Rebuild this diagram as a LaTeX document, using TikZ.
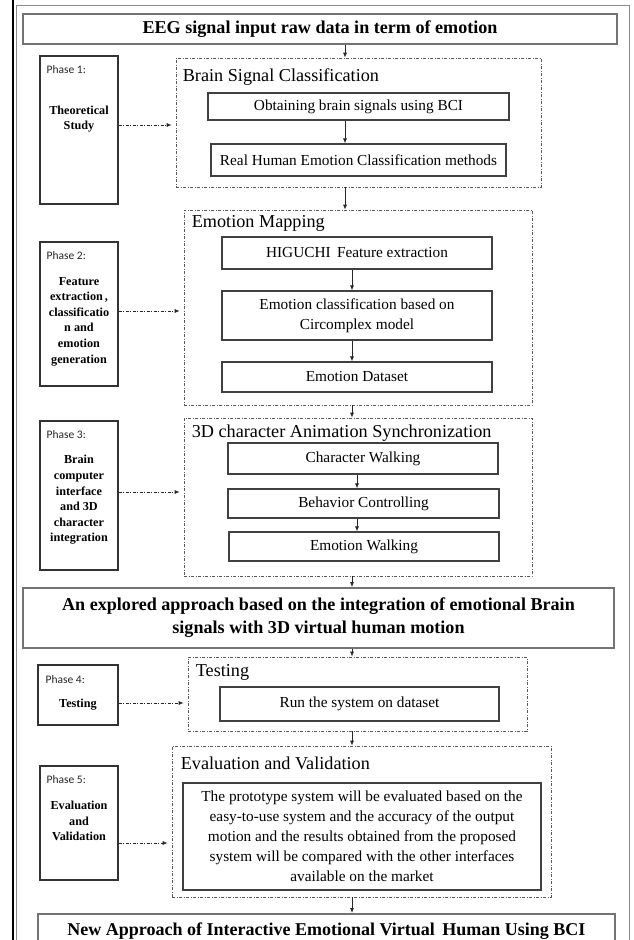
\documentclass[tikz,border=0pt]{standalone}
\usepackage{fontspec}
\setmainfont{Liberation Serif}
\newfontfamily\phasefont{Carlito}
\usetikzlibrary{arrows.meta}
\begin{document}
\begin{tikzpicture}[x=1pt,y=-1pt,
  box/.style={draw=black!75, line width=1.1pt, inner sep=0pt, align=center, font=\fontsize{15.3}{20}\selectfont},
  bigbox/.style={draw=black!55, line width=1.8pt, inner sep=0pt, align=center, font=\bfseries\fontsize{18.1}{23}\selectfont},
  grp/.style={draw=black!65, line width=0.7pt, dash pattern=on 3pt off 1.5pt on 1pt off 1.5pt, inner sep=0pt},
  grptitle/.style={anchor=west, inner sep=0pt, font=\fontsize{18.2}{20}\selectfont},
  phbox/.style={draw=black!80, line width=1.1pt, inner sep=0pt},
  phlabel/.style={anchor=west, inner sep=0pt, font=\phasefont\fontsize{11.5}{13}\selectfont, text=black!85},
  phtext/.style={inner sep=0pt, align=center, font=\bfseries\fontsize{12.2}{15.6}\selectfont},
  arr/.style={-{Latex[length=5pt,width=4pt]}, line width=0.8pt, black!85},
  darr/.style={-{Latex[length=5pt,width=4pt]}, line width=0.7pt, dash pattern=on 3pt off 1.5pt on 1pt off 1.5pt, black!85, shorten >=4pt},
]
\useasboundingbox (0,0) rectangle (633,940);
\fill[white] (0,0) rectangle (633,940);
% outer frame
\draw[line width=2pt] (12.5,0) -- (12.5,940);
\draw[black!45, line width=1pt] (16.5,940) -- (16.5,5) -- (629,5) -- (629,940);

\coordinate (cA) at (345,0);
\coordinate (cB) at (352,0);
\coordinate (cC) at (357,0);

% top box
\node[bigbox, minimum width=594, minimum height=30] (top) at (320,29) {EEG signal input raw data in term of emotion};

% phase 1
\node[grp, minimum width=365, minimum height=129] (g1) at (358.5,122.5) {};
\node[grptitle] (t1) at ([xshift=7pt,yshift=-19pt]g1.north west) {Brain Signal Classification};
\node[box, minimum width=301, minimum height=27] (b11) at (358.5,106.5) {Obtaining brain signals using BCI};
\node[box, minimum width=295, minimum height=32] (b12) at (358.5,160) {Real Human Emotion Classification methods};
\node[phbox, minimum width=78, minimum height=148] (ph1) at (79,130) {};
\node[phlabel] (p1l) at ([xshift=7pt,yshift=-14pt]ph1.north west) {Phase 1:};
\node[phtext] (p1t) at (79,119) {Theoretical\\Study};

% phase 2
\node[grp, minimum width=348, minimum height=195] (g2) at (358,307.5) {};
\node[grptitle] (t2) at ([xshift=8pt,yshift=-14pt]g2.north west) {Emotion Mapping};
\node[box, minimum width=270, minimum height=32] (b21) at (357,253) {HIGUCHI\, Feature extraction};
\node[box, minimum width=270, minimum height=49] (b22) at (357,315.5) {Emotion classification based on\\Circomplex model};
\node[box, minimum width=270, minimum height=30] (b23) at (357,377) {Emotion Dataset};
\node[phbox, minimum width=78, minimum height=144] (ph2) at (79,314) {};
\node[phlabel] (p2l) at ([xshift=7pt,yshift=-14pt]ph2.north west) {Phase 2:};
\node[phtext] (p2t) at (79,321.5) {Feature\\extraction\,,\\classificatio\\n and\\emotion\\generation};

% phase 3
\node[grp, minimum width=348, minimum height=158] (g3) at (358,497) {};
\node[grptitle] (t3) at ([xshift=8pt,yshift=-15pt]g3.north west) {3D character Animation Synchronization};
\node[box, minimum width=270, minimum height=31] (b31) at (363,458.5) {Character Walking};
\node[box, minimum width=271, minimum height=29] (b32) at (363.5,503.5) {Behavior Controlling};
\node[box, minimum width=270, minimum height=29] (b33) at (364,546.5) {Emotion Walking};
\node[phbox, minimum width=78, minimum height=149] (ph3) at (79,495.5) {};
\node[phlabel] (p3l) at ([xshift=7pt,yshift=-14pt]ph3.north west) {Phase 3:};
\node[phtext] (p3t) at (79,500) {Brain\\computer\\interface\\and 3D\\character\\integration};

% big box
\node[bigbox, minimum width=591, minimum height=60] (big) at (318.5,618) {An explored approach based on the integration of emotional Brain\\signals with 3D virtual human motion};

% phase 4
\node[grp, minimum width=339, minimum height=74] (g4) at (357.5,694) {};
\node[grptitle] (t4) at ([xshift=8pt,yshift=-16pt]g4.north west) {Testing};
\node[box, minimum width=279, minimum height=34] (b41) at (359.5,704) {Run the system on dataset};
\node[phbox, minimum width=80, minimum height=60] (ph4) at (78,695) {};
\node[phlabel] (p4l) at ([xshift=8pt,yshift=-15pt]ph4.north west) {Phase 4:};
\node[phtext] (p4t) at (78,705) {Testing};

% phase 5
\node[grp, minimum width=379, minimum height=151] (g5) at (361.5,821.5) {};
\node[grptitle] (t5) at ([xshift=9pt,yshift=-18pt]g5.north west) {Evaluation and Validation};
\node[box, minimum width=358, minimum height=107] (b51) at (362,836.5) {The prototype system will be evaluated based on the\\easy-to-use system and the accuracy of the output\\motion and the results obtained from the proposed\\system will be compared with the other interfaces\\available on the market};
\node[phbox, minimum width=78, minimum height=114] (ph5) at (79,823) {};
\node[phlabel] (p5l) at ([xshift=7pt,yshift=-14pt]ph5.north west) {Phase 5:};
\node[phtext] (p5t) at (79,821) {Evaluation\\and\\Validation};

% final box
\node[bigbox, minimum width=577, minimum height=34, anchor=north, font=\bfseries\fontsize{18}{22}\selectfont] (final) at (326.5,913) {New Approach of Interactive Emotional Virtual\, Human Using BCI};

% vertical arrows
\draw[arr] (top.south -| cA) -- (g1.north -| cA);
\draw[arr] (b11.south -| cA) -- (b12.north -| cA);
\draw[arr] (g1.south -| cA) -- (g2.north -| cA);
\draw[arr] (b21.south -| cB) -- (b22.north -| cB);
\draw[arr] (b22.south -| cB) -- (b23.north -| cB);
\draw[arr] (g2.south -| cB) -- (g3.north -| cB);
\draw[arr] (b31.south -| cC) -- (b32.north -| cC);
\draw[arr] (b32.south -| cC) -- (b33.north -| cC);
\draw[arr] (g3.south -| cB) -- (big.north -| cB);
\draw[arr] (big.south -| cB) -- (g4.north -| cB);
\draw[arr] (g4.south -| cB) -- (g5.north -| cB);
\draw[arr] (g5.south -| cB) -- (final.north -| cB);

% phase arrows
\draw[darr] ([yshift=5pt]ph1.east) -- ([yshift=5pt]ph1.east -| g1.west);
\draw[darr] ([yshift=3pt]ph2.east) -- ([yshift=3pt]ph2.east -| g2.west);
\draw[darr] ([yshift=3.5pt]ph3.east) -- ([yshift=3.5pt]ph3.east -| g3.west);
\draw[darr] ([yshift=-8pt]ph4.east) -- ([yshift=-8pt]ph4.east -| g4.west);
\draw[darr] ([yshift=-20pt]ph5.east) -- ([yshift=-20pt]ph5.east -| g5.west);
\end{tikzpicture}
\end{document}
